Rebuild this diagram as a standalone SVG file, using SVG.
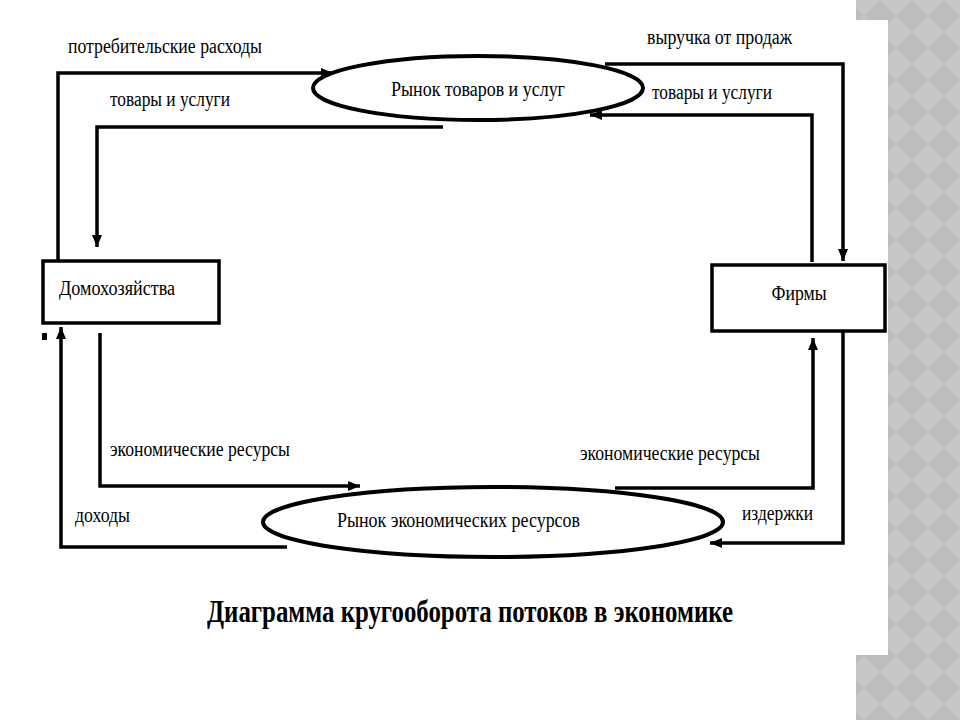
<svg xmlns="http://www.w3.org/2000/svg" width="960" height="720" viewBox="0 0 960 720">
<defs>
<pattern id="bg" width="32" height="32" patternUnits="userSpaceOnUse">
<rect width="32" height="32" fill="#c6c6c6"/>
<path d="M16 0 L32 16 L16 32 L0 16 Z" fill="#bdbdbd"/>
</pattern>
<marker id="ah" viewBox="0 0 12 10" refX="12" refY="5" markerWidth="12" markerHeight="10" markerUnits="userSpaceOnUse" orient="auto">
<path d="M0 0 L12 5 L0 10 Z" fill="#000"/>
</marker>
<style>
.lbl{font-family:"Liberation Serif","Times New Roman",serif;font-size:20px;fill:#000}
.ttl{font-family:"Liberation Serif","Times New Roman",serif;font-size:31px;font-weight:bold;fill:#000}
.ln{fill:none;stroke:#000;stroke-width:3.5}
.box{fill:#fff;stroke:#000;stroke-width:3.5}
.ell{fill:#fff;stroke:#000;stroke-width:4}
</style>
</defs>
<rect width="960" height="720" fill="#fff"/>
<path d="M856 0 H960 V720 H856 V655 H888 V20 H856 Z" fill="url(#bg)"/>
<g id="connectors">
<polyline class="ln" points="58,262 58,73 333,73" marker-end="url(#ah)"/>
<polyline class="ln" points="443,127 97,127 97,247" marker-end="url(#ah)"/>
<polyline class="ln" points="605,64 843,64 843,261" marker-end="url(#ah)"/>
<polyline class="ln" points="812,262 812,115 590,115" marker-end="url(#ah)"/>
<polyline class="ln" points="287,547 61,547 61,327" marker-end="url(#ah)"/>
<polyline class="ln" points="100,333 100,486 360,486" marker-end="url(#ah)"/>
<polyline class="ln" points="615,488 813,488 813,338" marker-end="url(#ah)"/>
<polyline class="ln" points="843,331 843,543 710,543" marker-end="url(#ah)"/>
</g>
<g id="market-goods">
<ellipse class="ell" cx="478" cy="88" rx="165" ry="32"/>
<text class="lbl" x="478" y="96" text-anchor="middle" textLength="174" lengthAdjust="spacingAndGlyphs">Рынок товаров и услуг</text>
</g>
<g id="market-resources">
<ellipse class="ell" cx="493" cy="522" rx="230" ry="35"/>
<text class="lbl" x="337" y="527" textLength="243" lengthAdjust="spacingAndGlyphs">Рынок экономических ресурсов</text>
</g>
<g id="households">
<rect class="box" x="43" y="261" width="176" height="62"/>
<text class="lbl" x="59" y="295" textLength="116" lengthAdjust="spacingAndGlyphs">Домохозяйства</text>
</g>
<g id="firms">
<rect class="box" x="712" y="265" width="173" height="66"/>
<text class="lbl" x="799" y="300" text-anchor="middle" textLength="55" lengthAdjust="spacingAndGlyphs">Фирмы</text>
</g>
<rect x="42" y="333" width="5" height="7" fill="#000"/>
<g id="labels">
<text class="lbl" x="68" y="53" textLength="194" lengthAdjust="spacingAndGlyphs">потребительские расходы</text>
<text class="lbl" x="110" y="106" textLength="120" lengthAdjust="spacingAndGlyphs">товары и услуги</text>
<text class="lbl" x="647" y="44" textLength="145" lengthAdjust="spacingAndGlyphs">выручка от продаж</text>
<text class="lbl" x="652" y="99" textLength="120" lengthAdjust="spacingAndGlyphs">товары и услуги</text>
<text class="lbl" x="110" y="456" textLength="180" lengthAdjust="spacingAndGlyphs">экономические ресурсы</text>
<text class="lbl" x="580" y="460" textLength="180" lengthAdjust="spacingAndGlyphs">экономические ресурсы</text>
<text class="lbl" x="75" y="522" textLength="55" lengthAdjust="spacingAndGlyphs">доходы</text>
<text class="lbl" x="742" y="520" textLength="71" lengthAdjust="spacingAndGlyphs">издержки</text>
</g>
<text class="ttl" x="207" y="622" textLength="526" lengthAdjust="spacingAndGlyphs">Диаграмма кругооборота потоков в экономике</text>
</svg>
